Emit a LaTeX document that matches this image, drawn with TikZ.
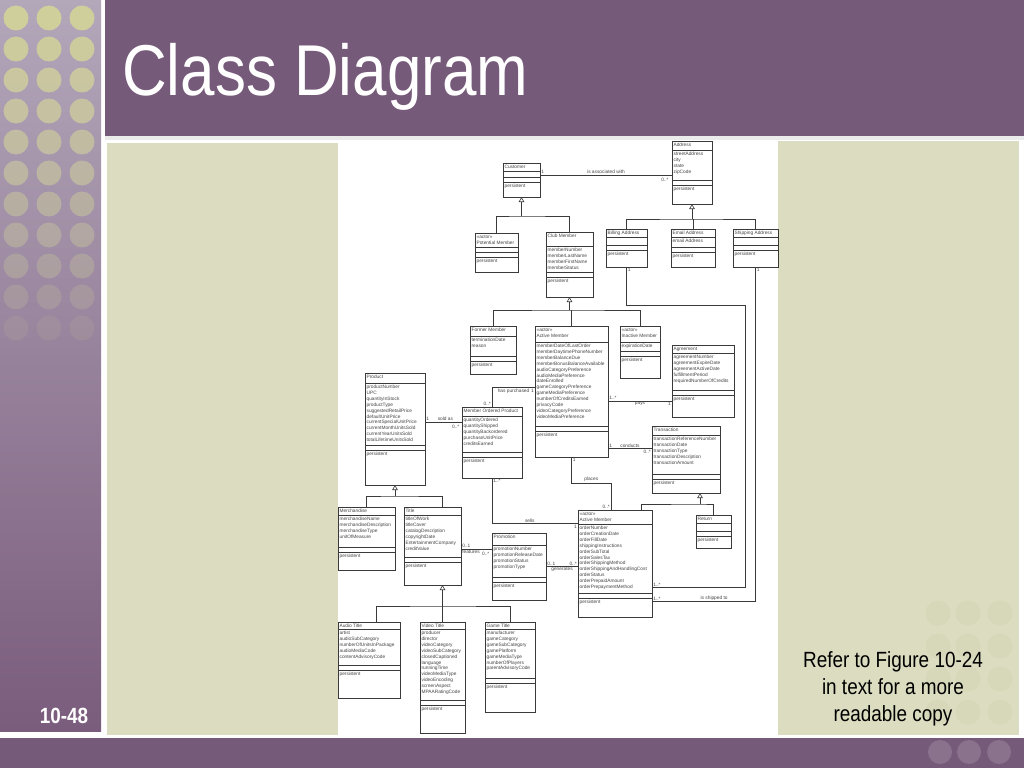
\documentclass[tikz,border=0pt]{standalone}
\usepackage{fontspec}
\setmainfont{Liberation Sans}
\newfontfamily\slidefont[FakeStretch=0.86]{Liberation Sans}
\usetikzlibrary{arrows.meta,positioning,calc}

\definecolor{slidepurple}{HTML}{765A7A}
\definecolor{striplight}{HTML}{B3A7BA}
\definecolor{stripmid}{HTML}{9A879F}
\definecolor{stripdark}{HTML}{7A5C7C}
\definecolor{dotgreen}{HTML}{CFCF9C}
\definecolor{dotpurple}{HTML}{8A718C}
\definecolor{panelbeige}{HTML}{DCDCC0}
\definecolor{beigedot}{HTML}{D7D7B9}
\definecolor{linegray}{HTML}{3A3A3A}
\definecolor{textgray}{HTML}{444444}

\newcommand{\clsfont}{\fontsize{4.8}{5.9}\selectfont}

\tikzset{
  clsbox/.style={draw=linegray, line width=0.6pt, fill=white, anchor=north west, inner sep=0pt, outer sep=0pt},
  clsline/.style={draw=linegray, line width=0.5pt},
  clstext/.style={anchor=north west, font=\clsfont, text=textgray, inner xsep=1.4pt, inner ysep=1.9pt, align=left},
  assoc/.style={draw=linegray, line width=0.6pt},
  gen/.style={assoc, -{Triangle[open, length=5pt, width=5.5pt]}},
  mult/.style={font=\clsfont, text=textgray, inner sep=1pt}
}

% class box: id, top-left, width, height, name part, attribute part, name, attributes
\newcommand{\umlclass}[8]{%
  \begin{scope}[shift={(#2)}]
    \node[clsbox, minimum width=#3, minimum height=#4] (#1) at (0,0) {};
    \draw[clsline] (0,#5) -- (#3,#5);
    \draw[clsline] (0,{#5+#6}) -- (#3,{#5+#6});
    \draw[clsline] (0,{#5+#6+5}) -- (#3,{#5+#6+5});
    \node[clstext] at (0,0) {#7};
    \node[clstext] at (0,#5) {#8};
    \node[clstext] at (0,{#5+#6+5}) {persistent};
  \end{scope}}

\begin{document}
\begin{tikzpicture}[x=1pt, y=-1pt]
\useasboundingbox (0,0) rectangle (1024,768);

% slide frame
\fill[white] (0,0) rectangle (1024,768);
\shade[top color=striplight, middle color=stripmid, bottom color=stripdark] (0,0) rectangle (101,731);
\foreach \row [evaluate=\row as \op using 1-0.088*\row] in {0,...,10}
  \foreach \col in {16,49,82}
    \fill[dotgreen, opacity=\op] (\col,{18+31*\row}) circle[radius=12.5pt];
\fill[slidepurple] (105,0) rectangle (1024,136);
\fill[black!8] (105,136) rectangle (1024,140);
\fill[panelbeige] (107,143) rectangle (338,735);
\fill[panelbeige] (778,141) rectangle (1019,735);
\foreach \row in {0,...,3}
  \foreach \col in {938,968,1000}
    \fill[beigedot] (\col,{613+33*\row}) circle[radius=12.5pt];
\fill[slidepurple] (0,738) rectangle (1024,768);
\foreach \col in {940,969,999}
  \fill[dotpurple] (\col,752) circle[radius=12pt];

\node[anchor=base west, inner sep=0pt, text=white, font={\slidefont\fontsize{72}{80}\selectfont}] (slidetitle) at (122,95) {Class Diagram};
\node[text=white, inner sep=0pt, font={\slidefont\bfseries\fontsize{22}{26}\selectfont}] (pagenum) at (64,716) {10-48};
\node[anchor=north, align=center, inner sep=0pt, font={\slidefont\fontsize{22}{27}\selectfont}] (refnote) at (893,651) {Refer to Figure 10-24\\in text for a more\\readable copy};

% classes
\umlclass{customer}{503,163}{37}{34}{8}{6}{Customer}{}
\umlclass{address}{672,141}{40}{63}{9}{30}{Address}{streetAddress\\city\\state\\zipCode}
\umlclass{potential}{475,233}{43}{39}{14}{5}{<<actor>>\\Potential Member}{}
\umlclass{clubmember}{546,232}{47}{65}{14}{26}{Club Member}{memberNumber\\memberLastName\\memberFirstName\\memberStatus}
\umlclass{billing}{606,229}{41}{38}{8}{8}{Billing Address}{}
\umlclass{email}{671,229}{44}{38}{8}{10}{Email Address}{email Address}
\umlclass{shipping}{733,229}{45}{38}{8}{8}{Shipping Address}{}
\umlclass{former}{470,326}{46}{48}{10}{20}{Former Member}{terminationDate\\reason}
\umlclass{active}{535,326}{73}{131}{16}{84}{<<actor>>\\Active Member}{memberDateOfLastOrder\\memberDaytimePhoneNumber\\memberBalanceDue\\memberBonusBalanceAvailable\\audioCategoryPreference\\audioMediaPreference\\dateEnrolled\\gameCategoryPreference\\gameMediaPreference\\numberOfCreditsEarned\\privacyCode\\videoCategoryPreference\\videoMediaPreference}
\umlclass{inactive}{620,326}{40}{52}{16}{9}{<<actor>>\\Inactive Member}{expirationDate}
\umlclass{agreement}{672,345}{62}{72}{8}{37}{Agreement}{agreementNumber\\agreementExpireDate\\agreementActiveDate\\fulfillmentPeriod\\requiredNumberOfCredits}
\umlclass{product}{365,373}{60}{112}{10}{62}{Product}{productNumber\\UPC\\quantityInStock\\productType\\suggestedRetailPrice\\defaultUnitPrice\\currentSpecialUnitPrice\\currentMonthUnitsSold\\currentYearUnitsSold\\totalLifetimeUnitsSold}
\umlclass{mop}{462,407}{60}{71}{9}{36}{Member Ordered Product}{quantityOrdered\\quantityShipped\\quantityBackordered\\purchaseUnitPrice\\creditsEarned}
\umlclass{transaction}{652,426}{68}{67}{9}{39}{Transaction}{transactionReferenceNumber\\transactionDate\\transactionType\\transactionDescription\\transactionAmount}
\umlclass{merchandise}{338,507}{57}{63}{8}{32}{Merchandise}{merchandiseName\\merchandiseDescription\\merchandiseType\\unitOfMeasure}
\umlclass{titlecls}{404,507}{57}{78}{8}{42}{Title}{titleOfWork\\titleCover\\catalogDescription\\copyrightDate\\EntertainmentCompany\\creditValue}
\umlclass{promotion}{492,533}{54}{67}{12}{32}{Promotion}{promotionNumber\\promotionReleaseDate\\promotionStatus\\promotionType}
\umlclass{order}{578,510}{74}{107}{14}{69}{<<actor>>\\Active Member}{orderNumber\\orderCreationDate\\orderFillDate\\shippingInstructions\\orderSubTotal\\orderSalesTax\\orderShippingMethod\\orderShippingAndHandlingCost\\orderStatus\\orderPrepaidAmount\\orderPrepaymentMethod}
\umlclass{returncls}{696,515}{35}{33}{8}{8}{Return}{}
\umlclass{audio}{338,622}{62}{76}{7}{36}{Audio Title}{artist\\audioSubCategory\\numberOfUnitsInPackage\\audioMediaCode\\contentAdvisoryCode}
\umlclass{video}{420,622}{45}{111}{7}{71}{Video Title}{producer\\director\\videoCategory\\videoSubCategory\\closedCaptioned\\language\\runningTime\\videoMediaType\\videoEncoding\\screenAspect\\MPAARatingCode}
\umlclass{game}{485,622}{50}{90}{7}{49}{Game Title}{manufacturer\\gameCategory\\gameSubCategory\\gamePlatform\\gameMediaType\\numberOfPlayers\\parentAdvisoryCode}

% generalizations
\coordinate (custbus) at ([yshift=-19pt]customer.south);
\draw[assoc] (potential.north) |- (custbus) -| (clubmember.north);
\draw[gen] (custbus) -- (customer.south);

\coordinate (addrbus) at ([yshift=-15pt]address.south);
\draw[assoc] (billing.north) |- (addrbus) -| (shipping.north);
\draw[assoc] (email.north) -- (email.north |- addrbus);
\draw[gen] (addrbus) -- (address.south);

\coordinate (clubbus) at ([yshift=-13pt]clubmember.south);
\draw[assoc] (former.north) |- (clubbus) -| (inactive.north);
\draw[assoc] (active.north) -- (active.north |- clubbus);
\draw[gen] (clubbus) -- (clubmember.south);

\coordinate (prodbus) at ([yshift=-11pt]product.south);
\draw[assoc] (merchandise.north) |- (prodbus) -| ([xshift=10pt]titlecls.north);
\draw[gen] (prodbus) -- (product.south);

\coordinate (titlebus) at ([xshift=10pt, yshift=-21pt]titlecls.south);
\coordinate (titleattach) at ([xshift=10pt]titlecls.south);
\draw[assoc] ([xshift=7pt]audio.north) |- (titlebus) -| (game.north);
\draw[assoc] (video.north) -- (video.north |- titlebus);
\draw[gen] (titlebus) -- (titleattach);

\coordinate (transbus) at ([xshift=14pt, yshift=-11pt]transaction.south);
\coordinate (transattach) at ([xshift=14pt]transaction.south);
\coordinate (orderattach) at ([xshift=26pt]order.north);
\draw[assoc] (orderattach) |- (transbus) -| (returncls.north);
\draw[gen] (transbus) -- (transattach);

% associations
\coordinate (assocL) at ([yshift=5pt]customer.east);
\draw[assoc] (assocL) node[mult, above right] {1} -- node[mult, above] {is associated with} (assocL -| address.west) node[mult, below left=3pt] {0..*};

\coordinate (soldL) at ([yshift=7pt]product.east);
\draw[assoc] (soldL) node[mult, above right] {1} -- node[mult, above, pos=0.55] {sold as} (soldL -| mop.west) node[mult, below left=2pt] {0..*};

\draw[assoc] (mop.north) node[mult, above left] {0..*} |- node[mult, below, pos=0.75] {has purchased} ([yshift=4pt]active.west) node[mult, below left] {1};

\coordinate (sellsR) at ([yshift=40pt]order.west);
\draw[assoc] (mop.south) node[mult, below right] {1..*} |- node[mult, above, pos=0.72] {sells} (sellsR) node[mult, below left] {1};

\draw[assoc] (active.south) node[mult, below right] {1} -- ++(0,26) -| node[mult, above, pos=0.25] {places} ([xshift=-4pt]order.north) node[mult, above left] {0..*};

\coordinate (featL) at ([yshift=-3pt]titlecls.east);
\draw[assoc] (featL) node[mult, above right] {0..1} node[mult, below right] {features} -- (featL -| promotion.west) node[mult, below left=2pt] {0..*};

\draw[assoc] (promotion.east) node[mult, above right] {0..1} -- node[mult, below] {generates} (promotion.east -| order.west) node[mult, above left] {0..*};

\coordinate (paysR) at ([yshift=-20pt]agreement.west);
\draw[assoc] (paysR -| active.east) node[mult, above right] {1..*} -- node[mult, below] {pays} (paysR) node[mult, below left] {1};

\coordinate (condR) at ([yshift=11pt]transaction.west);
\draw[assoc] (condR -| active.east) node[mult, above right] {1} -- node[mult, above] {conducts} (condR) node[mult, below left] {0..*};

\coordinate (billbend) at (745,305);
\coordinate (billR) at ([yshift=-24pt]order.east);
\draw[assoc] (billing.south) node[mult, below right] {1} |- (billbend) |- (billR) node[mult, above right] {1..*};

\coordinate (shipR) at ([yshift=-38pt]order.east);
\draw[assoc] (shipping.south) node[mult, below right] {1} |- node[mult, above, pos=0.7] {is shipped to} (shipR) node[mult, above right] {1..*};
\end{tikzpicture}
\end{document}
